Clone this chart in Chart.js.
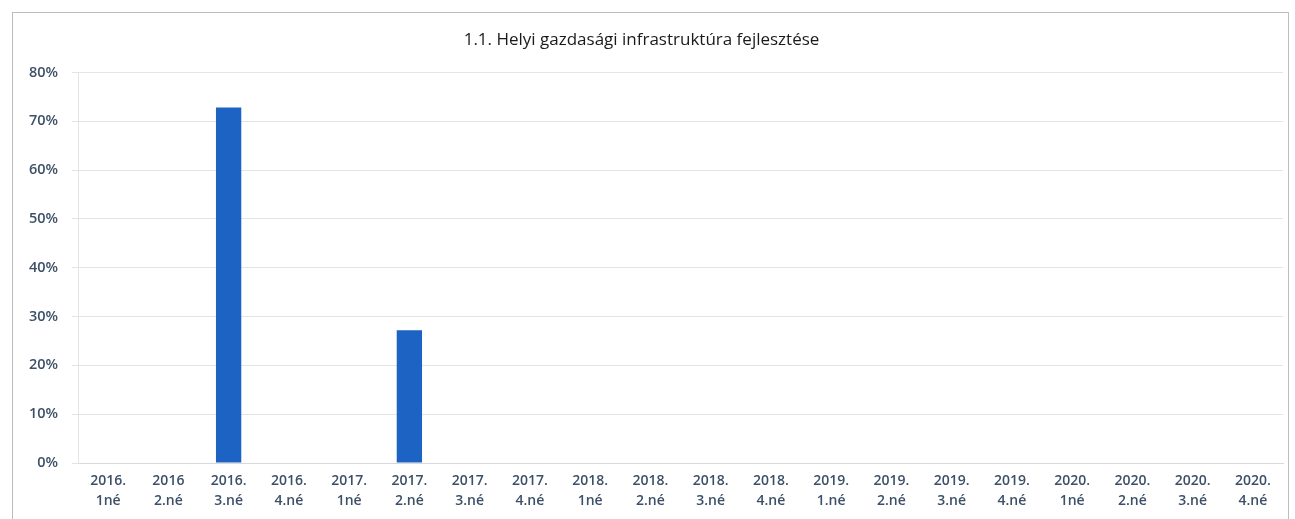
<!DOCTYPE html>
<html><head><meta charset="utf-8">
<script src="https://cdn.jsdelivr.net/npm/chart.js@4/dist/chart.umd.min.js"></script>
<style>
html,body{margin:0;padding:0;background:#fff;}
#wrap{position:absolute;left:0;top:0;width:1295px;height:519px;}
#frame{position:absolute;left:12px;top:12px;width:1277px;height:520px;border:1px solid #bdbdbd;border-bottom:none;box-sizing:border-box;}
canvas{position:absolute;left:0;top:0;}
</style></head>
<body>
<div id="wrap"><div id="frame"></div><canvas id="c" width="1295" height="519"></canvas></div>
<script>
const yearLabels = ['2016.','2016','2016.','2016.','2017.','2017.','2017.','2017.','2018.','2018.','2018.','2018.','2019.','2019.','2019.','2019.','2020.','2020.','2020.','2020.'];
const quarterLabels = ['1né','2.né','3.né','4.né','1né','2.né','3.né','4.né','1né','2.né','3.né','4.né','1.né','2.né','3.né','4.né','1né','2.né','3.né','4.né'];
const values = [0,0,72.8,0,0,27.2,0,0,0,0,0,0,0,0,0,0,0,0,0,0];
const yTicks = [0,10,20,30,40,50,60,70,80];
const chartTitle = '1.1. Helyi gazdasági infrastruktúra fejlesztése';

const labels = yearLabels.map((y,i)=>[y, quarterLabels[i]]);
const textColor = '#3d5068';
const fontFam = "'Open Sans', 'Liberation Sans', sans-serif";

new Chart(document.getElementById('c'), {
  type: 'bar',
  data: { labels, datasets: [{ data: values, backgroundColor: '#1c63c4', borderWidth: 0, barPercentage: 0.42, categoryPercentage: 1 }] },
  options: {
    responsive: false, animation: false,
    layout: { padding: { left: 0, right: 12, top: 0, bottom: 0 } },
    plugins: {
      legend: { display: false }, tooltip: { enabled: false },
      title: { display: true, text: chartTitle, color: '#1a1a1a', font: { family: fontFam, size: 17, weight: 'normal' }, padding: { top: 30, bottom: 22 } }
    },
    scales: {
      x: {
        grid: { display: false, drawTicks: false },
        border: { color: '#d9d9d9' },
        ticks: { color: textColor, font: { family: fontFam, size: 14, weight: '600', lineHeight: 1.45 }, padding: 8, maxRotation: 0, autoSkip: false },
        afterFit: s => { s.height = 56; }
      },
      y: {
        min: 0, max: 80,
        afterBuildTicks: s => { s.ticks = yTicks.map(v => ({ value: v })); },
        grid: { color: '#e4e4e4', drawTicks: true, tickLength: 6, tickColor: '#e4e4e4' },
        border: { display: true, color: '#e4e4e4' },
        ticks: { color: textColor, font: { family: fontFam, size: 14.5, weight: '600' }, padding: 14, callback: v => v + '%' },
        afterFit: s => { s.width = 78; }
      }
    }
  }
});
</script>
</body></html>
